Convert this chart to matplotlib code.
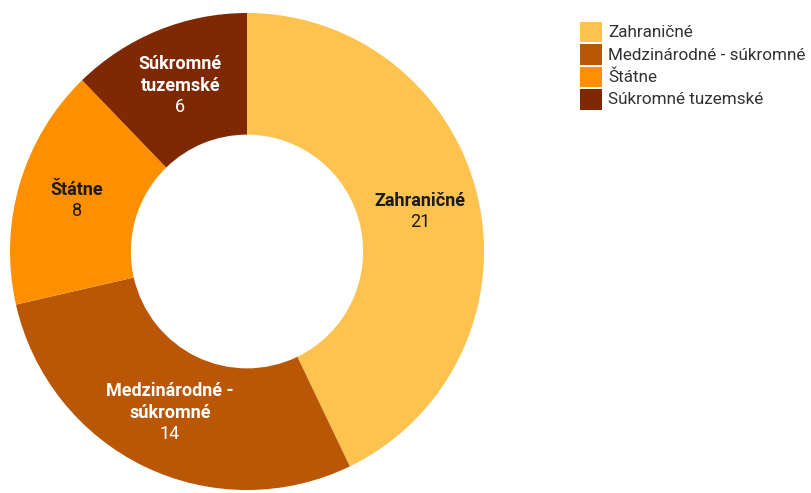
import matplotlib.pyplot as plt
from matplotlib.patches import Rectangle
import numpy as np

plt.rcParams['font.family'] = ['Roboto', 'DejaVu Sans']

labels = ['Zahraničné', 'Medzinárodné - súkromné', 'Štátne', 'Súkromné tuzemské']
slice_labels = ['Zahraničné', 'Medzinárodné -\nsúkromné', 'Štátne', 'Súkromné\ntuzemské']
values = [21, 14, 8, 6]
colors = ['#fec24e', '#b95707', '#fe8f00', '#7e2804']
text_colors = ['#1a1a1a', 'white', '#1a1a1a', 'white']

W, H = 812, 493
fig = plt.figure(figsize=(W / 100, H / 100), dpi=100)
ax = fig.add_axes([10 / W, 3 / H, 474 / W, 477 / H])

wedges, _ = ax.pie(values, colors=colors, startangle=90, counterclock=False,
                   radius=1.0, wedgeprops=dict(width=0.51, linewidth=0))
ax.set_xlim(-1, 1)
ax.set_ylim(-1, 1)
ax.set_aspect('auto')
ax.axis('off')

# name (bold) + value inside each slice, block centred on the ring
total = sum(values)
line_h = 21.5 / 238.5
start = 90.0
for v, name, tc in zip(values, slice_labels, text_colors):
    mid = np.deg2rad(start - v / total * 360 / 2)
    start -= v / total * 360
    r = 0.75
    x, y = r * np.cos(mid), r * np.sin(mid)
    lines = name.split('\n') + [str(v)]
    n = len(lines)
    for k, line in enumerate(lines):
        yy = y + ((n - 1) / 2 - k) * line_h
        bold = k < n - 1
        ax.text(x, yy, line, ha='center', va='center', color=tc, fontsize=13,
                fontweight='bold' if bold else 'normal')

# legend drawn in figure pixels
for i, (lab, c) in enumerate(zip(labels, colors)):
    top = 22 + i * 22.5
    fig.patches.append(Rectangle((580 / W, (H - top - 20) / H), 22 / W, 20 / H,
                                 facecolor=c, edgecolor='none', transform=fig.transFigure))
    fig.text(608 / W, (H - top - 10.5) / H, lab, ha='left', va='center',
             fontsize=12.3, color='#333333')

fig.savefig('out.png', dpi=100)
